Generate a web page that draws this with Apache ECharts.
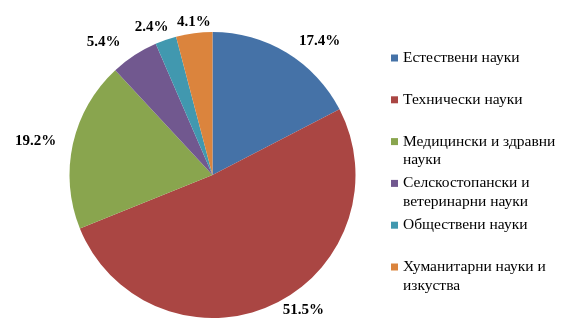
<!DOCTYPE html>
<html>
<head>
<meta charset="utf-8">
<script src="https://cdn.jsdelivr.net/npm/echarts@6/dist/echarts.min.js"></script>
<style>
html,body{margin:0;padding:0;background:#fff;}
#c{width:572px;height:327px;}
</style>
</head>
<body>
<div id="c"></div>
<script>
const categories = ['Естествени науки', 'Технически науки', 'Медицински и здравни науки', 'Селскостопански и ветеринарни науки', 'Обществени науки', 'Хуманитарни науки и изкуства'];
const legendLines = [['Естествени науки'], ['Технически науки'], ['Медицински и здравни', 'науки'], ['Селскостопански и', 'ветеринарни науки'], ['Обществени науки'], ['Хуманитарни науки и', 'изкуства']];
const values = [17.4, 51.5, 19.2, 5.4, 2.4, 4.1];
const colors = ['#4572A7', '#AA4643', '#89A54E', '#71588F', '#4198AF', '#DB843D'];

// label placement tweaks (layout only)
const labelTweaks = [
  {len: 14, dist: 5, pad: 0},
  {len: 6, dist: 8, pad: 0},
  {len: 14, dist: 3, pad: 14},
  {len: 16, dist: 5, pad: 10},
  {len: 13, dist: -7, pad: 0},
  {len: 11, dist: -18, pad: 0}
];

const chart = echarts.init(document.getElementById('c'), null, {renderer: 'canvas'});
const LH = 18.5;
const legends = categories.map((name, i) => {
  const lines = legendLines[i];
  const twoLine = lines.length > 1;
  const c = 58 + i * 41.8;
  return {
    orient: 'vertical',
    left: 391,
    top: twoLine ? c - LH * 1.5 : c - LH / 2,
    padding: 0,
    itemWidth: 7,
    itemHeight: 7,
    itemGap: 0,
    icon: 'rect',
    selectedMode: false,
    data: [name],
    formatter: () => (twoLine ? ' \n' : '') + lines.join('\n'),
    textStyle: {
      fontFamily: 'Liberation Serif',
      fontSize: 15.5,
      color: '#000',
      lineHeight: LH
    }
  };
});

chart.setOption({
  animation: false,
  color: colors,
  legend: legends,
  series: [{
    type: 'pie',
    center: [212.5, 175],
    radius: 143,
    startAngle: 90,
    clockwise: true,
    avoidLabelOverlap: false,
    labelLayout: {hideOverlap: false},
    label: {
      show: true,
      position: 'outside',
      formatter: p => p.value.toFixed(1) + '%',
      fontFamily: 'Liberation Serif',
      fontWeight: 'bold',
      fontSize: 15,
      color: '#000'
    },
    labelLine: {show: false, length: 12, length2: 0},
    itemStyle: {borderWidth: 0},
    emphasis: {disabled: true},
    data: categories.map((n, i) => ({
      name: n,
      value: values[i],
      label: {distanceToLabelLine: labelTweaks[i].dist, padding: [labelTweaks[i].pad, 0, 0, 0]},
      labelLine: {length: labelTweaks[i].len, length2: 0}
    }))
  }]
});
</script>
</body>
</html>
